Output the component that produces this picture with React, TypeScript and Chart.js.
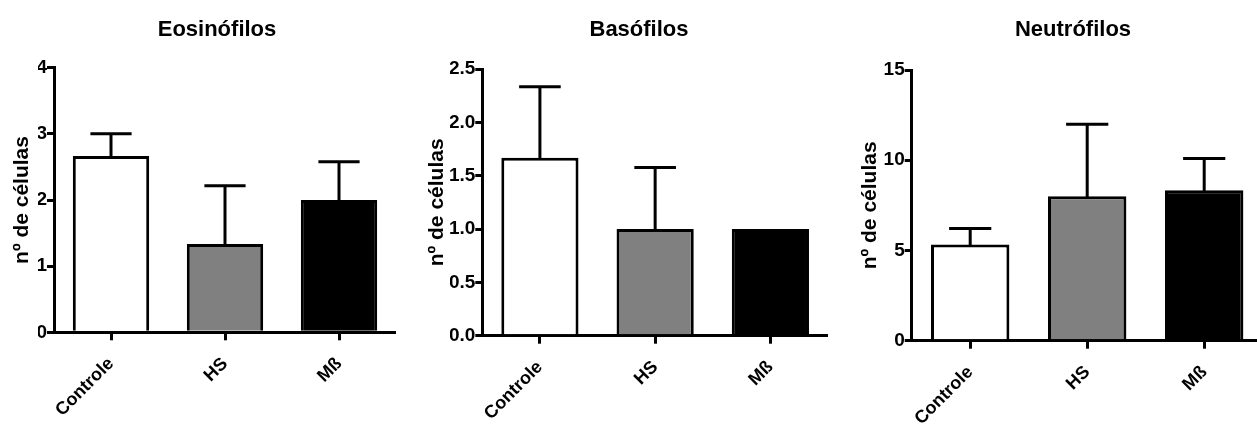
import React, { useEffect, useRef } from "react";
import { Chart, registerables } from "chart.js";

Chart.register(...registerables);

const FONT = "'Liberation Sans', Arial, Helvetica, sans-serif";

const categories = ["Controle", "HS", "Mß"];
const barColors = ["#ffffff", "#808080", "#000000"];
const yAxisLabel = "nº de células";

const eosTitle = "Eosinófilos";
const eosMeans = [2.667, 1.333, 2.0];
const eosSem = [0.333, 0.882, 0.577];
const eosTicks = [0, 1, 2, 3, 4];

const basTitle = "Basófilos";
const basMeans = [1.667, 1.0, 1.0];
const basSem = [0.667, 0.577, 0];
const basTicks = [0, 0.5, 1, 1.5, 2, 2.5];

const neuTitle = "Neutrófilos";
const neuMeans = [5.333, 8.0, 8.333];
const neuSem = [0.882, 4.0, 1.764];
const neuTicks = [0, 5, 10, 15];

type Panel = {
  title: string;
  means: number[];
  sem: number[];
  ticks: number[];
  decimals: number;
  left: number;
  width: number;
  padLeft: number;
  padRight: number;
  yAxisW: number;
  titleBottom: number;
  xAxisH: number;
  yTitlePad: number;
};

const panels: Panel[] = [
  { title: eosTitle, means: eosMeans, sem: eosSem, ticks: eosTicks, decimals: 0,
    left: 0, width: 396, padLeft: 38, padRight: 0, yAxisW: 16, titleBottom: 27.2, xAxisH: 94.7, yTitlePad: -26 },
  { title: basTitle, means: basMeans, sem: basSem, ticks: basTicks, decimals: 1,
    left: 420, width: 408, padLeft: 30, padRight: 0, yAxisW: 32.3, titleBottom: 28.5, xAxisH: 91.3, yTitlePad: -23 },
  { title: neuTitle, means: neuMeans, sem: neuSem, ticks: neuTicks, decimals: 0,
    left: 840, width: 423, padLeft: 43.3, padRight: 0.3, yAxisW: 28.4, titleBottom: 29.5, xAxisH: 86.3, yTitlePad: -23.1 },
];

function BarPanel({ p }: { p: Panel }) {
  const ref = useRef<HTMLCanvasElement | null>(null);
  useEffect(() => {
    if (!ref.current) return;
    const errorBars = {
      id: "errorBars",
      afterDatasetsDraw(chart: any) {
        const ctx = chart.ctx;
        const meta = chart.getDatasetMeta(0);
        const ys = chart.scales.y;
        ctx.save();
        ctx.strokeStyle = "#000";
        ctx.lineWidth = 3;
        ctx.lineCap = "square";
        meta.data.forEach((bar: any, i: number) => {
          const e = p.sem[i];
          if (!e) return;
          const v = p.means[i];
          const x = bar.x;
          const yb = ys.getPixelForValue(v);
          const yt = ys.getPixelForValue(v + e);
          const hw = bar.width / 4;
          ctx.beginPath();
          ctx.moveTo(x, yb);
          ctx.lineTo(x, yt);
          ctx.moveTo(x - hw, yt);
          ctx.lineTo(x + hw, yt);
          ctx.stroke();
        });
        ctx.restore();
      },
    };
    const chart = new Chart(ref.current, {
      type: "bar",
      data: {
        labels: categories,
        datasets: [
          {
            data: p.means,
            backgroundColor: barColors,
            borderColor: "#000",
            borderWidth: 3,
            categoryPercentage: 1,
            barPercentage: 0.67,
          },
        ],
      },
      options: {
        animation: false,
        responsive: false,
        events: [],
        layout: { padding: { left: p.padLeft, right: p.padRight, top: 0, bottom: 0 } },
        plugins: {
          legend: { display: false },
          tooltip: { enabled: false },
          title: {
            display: true,
            text: p.title,
            color: "#000",
            font: { family: FONT, size: 22, weight: "bold", lineHeight: 1 },
            padding: { top: 18.5, bottom: p.titleBottom },
          },
        },
        scales: {
          x: {
            type: "category",
            offset: true,
            grid: { display: true, drawOnChartArea: false, drawTicks: true, offset: false, tickLength: 8, lineWidth: 3, color: "#000" },
            border: { display: true, width: 3, color: "#000" },
            ticks: {
              color: "#000",
              font: { family: FONT, size: 18, weight: "bold" },
              minRotation: 45,
              maxRotation: 45,
              autoSkip: false,
              padding: 13,
            },
            afterFit: (s: any) => { s.height = p.xAxisH; },
          },
          y: {
            min: 0,
            max: p.ticks[p.ticks.length - 1],
            grid: { drawOnChartArea: false, drawTicks: true, tickLength: 7, lineWidth: 3, color: "#000" },
            border: { display: true, width: 3, color: "#000" },
            ticks: {
              color: "#000",
              font: { family: FONT, size: 19, weight: "bold" },
              padding: 0,
              callback: (v: any) => Number(v).toFixed(p.decimals),
            },
            afterBuildTicks: (s: any) => { s.ticks = p.ticks.map((v) => ({ value: v })); },
            title: {
              display: true,
              text: yAxisLabel,
              color: "#000",
              font: { family: FONT, size: 21, weight: "bold", lineHeight: 1 },
              padding: { top: p.yTitlePad, bottom: 0 },
            },
            afterFit: (s: any) => { s.width = p.yAxisW; },
          },
        },
      } as any,
      plugins: [errorBars],
    });
    return () => chart.destroy();
  }, [p]);
  return (
    <canvas
      ref={ref}
      width={p.width}
      height={427}
      style={{ position: "absolute", left: p.left, top: 0, width: p.width, height: 427, display: "block" }}
    />
  );
}

export default function App() {
  return (
    <div style={{ position: "fixed", left: 0, top: 0, width: 1257, height: 427, overflow: "hidden", background: "#fff" }}>
      {panels.map((p, i) => (
        <BarPanel key={i} p={p} />
      ))}
    </div>
  );
}
